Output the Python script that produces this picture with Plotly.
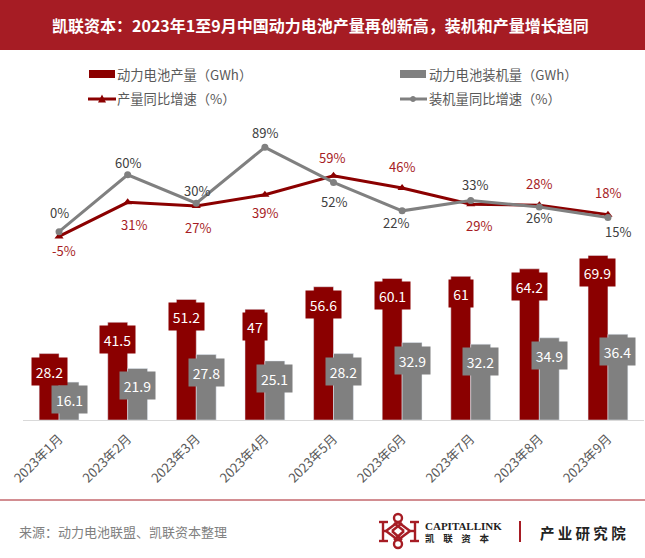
import plotly.graph_objects as go

categories = [f"2023年{m}月" for m in range(1, 10)]
production = [28.2, 41.5, 51.2, 47, 56.6, 60.1, 61, 64.2, 69.9]
installed = [16.1, 21.9, 27.8, 25.1, 28.2, 32.9, 32.2, 34.9, 36.4]
production_yoy = [-5, 31, 27, 39, 59, 46, 29, 28, 18]
installed_yoy = [0, 60, 30, 89, 52, 22, 33, 26, 15]

# label nudges in pixels (dx, dy with +dy downward)
prod_off = [(5, 14), (6, 22), (2, 21), (0, 18), (-2, -18), (0, -22), (8, 21), (0, -22), (0, -22)]
inst_off = [(0, -19), (0, -12), (1, -13), (0, -15), (0, 19), (-6, 12), (4, -16), (0, 10), (10, 14)]

RED = "#8B0000"
GREY = "#808080"
BAND = "#A61C24"
FONT = "Noto Sans CJK SC"
W, H = 645, 558
L, T, PW, PH = 23, 120, 621, 300


def px(x):
    return (x - L) / PW


def py(y):
    return (T + PH - y) / PH


fig = go.Figure()
fig.add_bar(x=categories, y=production, name="动力电池产量（GWh）", marker_color=RED, showlegend=False)
fig.add_bar(x=categories, y=installed, name="动力电池装机量（GWh）", marker_color=GREY, showlegend=False)
fig.add_scatter(x=categories, y=production_yoy, name="产量同比增速（%）", yaxis="y2", mode="lines+markers",
                line=dict(color=RED, width=3), marker=dict(symbol="triangle-up", size=8, color=RED), showlegend=False)
fig.add_scatter(x=categories, y=installed_yoy, name="装机量同比增速（%）", yaxis="y2", mode="lines+markers",
                line=dict(color=GREY, width=3), marker=dict(symbol="circle", size=7, color=GREY), showlegend=False)

ann = []
shapes = []


def text(x, y, s, size=13, color="#595959", anchor="left", bold=False, family=FONT):
    ann.append(dict(xref="paper", yref="paper", x=px(x), y=py(y), text=f"<b>{s}</b>" if bold else s, showarrow=False,
                    xanchor=anchor, yanchor="middle", font=dict(size=size, color=color, family=family)))


def rect(x0, y0, x1, y1, color):
    shapes.append(dict(type="rect", xref="paper", yref="paper", x0=px(x0), x1=px(x1), y0=py(y0), y1=py(y1),
                       fillcolor=color, line_width=0, layer="above"))


def seg(x0, y0, x1, y1, color=BAND, width=2.4):
    shapes.append(dict(type="line", xref="paper", yref="paper", x0=px(x0), x1=px(x1), y0=py(y0), y1=py(y1),
                       line=dict(color=color, width=width), layer="above"))


def circ(cx, cy, r, color=BAND, width=2.4, fill=None):
    shapes.append(dict(type="circle", xref="paper", yref="paper", x0=px(cx - r), x1=px(cx + r), y0=py(cy + r), y1=py(cy - r),
                       line=dict(color=color, width=width), fillcolor=fill or "rgba(0,0,0,0)", layer="above"))


def tri(cx, cy, r, color):
    d = f"M{px(cx - r)},{py(cy + r)} L{px(cx + r)},{py(cy + r)} L{px(cx)},{py(cy - r)} Z"
    shapes.append(dict(type="path", xref="paper", yref="paper", path=d, fillcolor=color, line_width=0, layer="above"))


# value boxes on bars
for vals, col, xs in ((production, RED, -10), (installed, GREY, 10)):
    for c, v in zip(categories, vals):
        s = f"{v}"
        ann.append(dict(x=c, y=v, xref="x", yref="y", text=s, showarrow=False, xshift=xs, yshift=-17.5,
                        width=35 if len(s) > 2 else 24, height=27, bgcolor=col, borderpad=0,
                        font=dict(size=14, color="white", family=FONT)))

# growth labels
for vals, offs, col in ((production_yoy, prod_off, "#A61C24"), (installed_yoy, inst_off, "#404040")):
    for c, v, (dx, dy) in zip(categories, vals, offs):
        ann.append(dict(x=c, y=v, xref="x", yref="y2", text=f"{v}%", showarrow=False, xshift=dx, yshift=-dy,
                        font=dict(size=13, color=col, family=FONT)))

# header and footer
rect(0, 0, W, 50, BAND)
text(W / 2 - 2, 25, "凯联资本：2023年1至9月中国动力电池产量再创新高，装机和产量增长趋同", size=16, color="white", anchor="center", bold=True)
seg(0, 500, W, 500, BAND, 1)
text(17, 531, "来源：动力电池联盟、凯联资本整理", size=13, color="#808080")

# legend
rect(89, 70, 115, 78, RED)
text(115, 74, "动力电池产量（GWh）", size=13.3, color="#595959")
rect(400, 70, 426, 78, GREY)
text(427, 74, "动力电池装机量（GWh）", size=13.3, color="#595959")
seg(88, 99, 116, 99, RED, 3)
tri(102, 98.5, 4, RED)
text(115, 99, "产量同比增速（%）", size=13.3, color="#595959")
seg(400, 99, 427, 99, GREY, 3)
circ(413, 99, 2.5, GREY, 1, GREY)
text(427, 99, "装机量同比增速（%）", size=13.3, color="#595959")

# logo
circ(398, 518, 4)
circ(398, 544, 4)
for a in [(383, 522, 383, 541), (415, 522, 415, 541), (379, 522, 388, 522), (379, 541, 388, 541), (410, 522, 419, 522),
          (410, 541, 419, 541), (398, 522, 386, 531), (386, 531, 398, 540), (398, 522, 410, 531), (410, 531, 398, 540),
          (383, 531, 386, 531), (410, 531, 415, 531), (394, 523, 404, 531), (404, 531, 394, 540), (402, 523, 392, 531), (392, 531, 402, 540)]:
    seg(*a)
text(423, 526, "<b>CAPITALLINK</b>", size=11, color="#222222", family="Liberation Serif")
text(423, 538, "<b>凯 &nbsp; &nbsp;联 &nbsp; &nbsp;资 &nbsp; &nbsp;本</b>", size=9.5, color="#222222")
rect(519, 521, 521, 542, BAND)
text(538, 532, "<b>产 业 研 究 院</b>", size=14.5, color="#222222")

fig.update_layout(
    width=W, height=H, autosize=False, margin=dict(l=L, r=W - L - PW, t=T, b=H - T - PH),
    paper_bgcolor="white", plot_bgcolor="white", barmode="group", bargap=0.42, bargroupgap=0,
    xaxis=dict(type="category", tickangle=-45, showgrid=False, ticks="", showline=True, linecolor="#D9D9D9", linewidth=1,
               ticklabelstandoff=5, tickfont=dict(size=13, color="#595959", family=FONT)),
    yaxis=dict(range=[0, 127.4], visible=False, showgrid=False),
    yaxis2=dict(range=[-198.6, 117.8], overlaying="y", visible=False, showgrid=False),
    annotations=ann, shapes=shapes, showlegend=False,
)
fig.write_html("out.html", config=dict(displayModeBar=False), post_script="document.body.style.margin='0';")
